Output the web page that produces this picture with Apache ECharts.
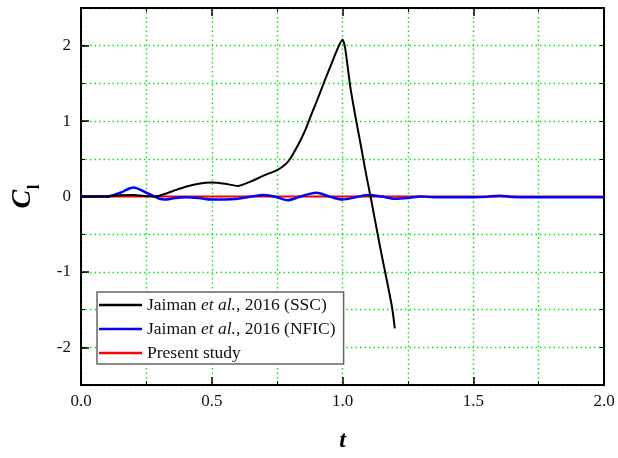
<!DOCTYPE html>
<html>
<head>
<meta charset="utf-8">
<script src="https://cdn.jsdelivr.net/npm/echarts@6/dist/echarts.min.js"></script>
<style>
  html, body { margin: 0; padding: 0; background: #fff; }
  #chart { width: 618px; height: 458px; }
</style>
</head>
<body>
<div id="chart"></div>
<script>
// Lift coefficient histories, [t, C_l]
const ssc = [
  [0, 0], [0.05, 0], [0.1, 0.0], [0.15, 0.015], [0.2, 0.02], [0.25, 0.005], [0.28, 0.0],
  [0.3, 0.01], [0.35, 0.07], [0.4, 0.13], [0.45, 0.17], [0.5, 0.185], [0.55, 0.17],
  [0.6, 0.14], [0.65, 0.2], [0.7, 0.28], [0.75, 0.35], [0.78, 0.42], [0.8, 0.5],
  [0.82, 0.62], [0.84, 0.75], [0.86, 0.9], [0.88, 1.08], [0.9, 1.25], [0.93, 1.52],
  [0.96, 1.78], [0.98, 1.95], [1.0, 2.08], [1.01, 1.97], [1.03, 1.45], [1.05, 1.05],
  [1.07, 0.68], [1.09, 0.3], [1.11, -0.05], [1.13, -0.42], [1.15, -0.78], [1.17, -1.12],
  [1.19, -1.48], [1.2, -1.75]
];
const nfic = [
  [0, 0], [0.1, 0], [0.15, 0.05], [0.2, 0.12], [0.25, 0.05], [0.3, -0.03], [0.32, -0.04],
  [0.36, -0.02], [0.4, -0.01], [0.45, -0.02], [0.5, -0.04], [0.55, -0.04], [0.6, -0.03],
  [0.65, 0.0], [0.7, 0.02], [0.75, -0.01], [0.79, -0.05], [0.84, 0.0], [0.9, 0.05],
  [0.95, 0.0], [1.0, -0.04], [1.05, -0.01], [1.1, 0.02], [1.15, 0.0], [1.2, -0.03],
  [1.25, -0.02], [1.3, 0.0], [1.35, -0.01], [1.4, -0.01], [1.5, -0.01], [1.55, -0.005],
  [1.6, 0.01], [1.65, -0.005], [1.8, -0.01], [2.0, -0.01]
];
const present = [[0, 0], [0.5, 0], [1.0, 0], [1.5, 0], [2.0, 0]];

const seriesNames = ['Jaiman et al., 2016 (SSC)', 'Jaiman et al., 2016 (NFIC)', 'Present study'];
const xRange = { min: 0, max: 2, step: 0.5 };
const yRange = { min: -2.5, max: 2.5, step: 0.5 };
const yLabelValues = [-2, -1, 0, 1, 2];

const serif = '"Liberation Serif", "Times New Roman", serif';
const gridGreen = '#00ee00';
const dotted = () => ({ color: gridGreen, type: [1.5, 3], width: 1.4 });
const frame = () => ({ color: '#000', width: 2 });

const chart = echarts.init(document.getElementById('chart'), null, { renderer: 'canvas' });
chart.setOption({
  backgroundColor: '#fff',
  animation: false,
  grid: { left: 81, right: 14, top: 8, bottom: 67 },
  legend: {
    orient: 'vertical',
    left: 97,
    top: 292,
    padding: [4, 8, 2, 2],
    itemGap: 6,
    itemWidth: 43,
    itemHeight: 2.5,
    icon: 'rect',
    backgroundColor: '#fff',
    borderColor: '#666',
    borderWidth: 1.5,
    data: seriesNames,
    formatter: function (name) {
      return name.replace('et al.', '{it|et al.}');
    },
    textStyle: {
      fontFamily: serif, fontSize: 17.5, color: '#111',
      rich: { it: { fontFamily: serif, fontSize: 17.5, fontStyle: 'italic', color: '#111' } }
    }
  },
  xAxis: [
    {
      type: 'value', min: xRange.min, max: xRange.max, interval: xRange.step,
      position: 'bottom',
      name: 't', nameLocation: 'middle', nameGap: 44,
      nameTextStyle: { fontFamily: serif, fontSize: 24, fontWeight: 'bold', fontStyle: 'italic', color: '#000' },
      axisLine: { show: true, onZero: false, lineStyle: frame() },
      axisTick: { show: true, inside: true, length: 8, lineStyle: { color: '#000', width: 1.5 } },
      minorTick: { show: true, splitNumber: 2, length: 4, lineStyle: { color: '#000', width: 1 } },
      splitLine: { show: true, lineStyle: dotted() },
      minorSplitLine: { show: true, lineStyle: dotted() },
      axisLabel: { margin: 8, fontFamily: serif, fontSize: 17, color: '#111', formatter: v => v.toFixed(1) }
    },
    {
      type: 'value', min: xRange.min, max: xRange.max, interval: xRange.step,
      position: 'top',
      axisLine: { show: true, onZero: false, lineStyle: frame() },
      axisTick: { show: true, inside: true, length: 8, lineStyle: { color: '#000', width: 1.5 } },
      minorTick: { show: true, splitNumber: 2, length: 4, lineStyle: { color: '#000', width: 1 } },
      axisLabel: { show: false },
      splitLine: { show: false }
    }
  ],
  yAxis: [
    {
      // frame line, half-step grid and short ticks, integer labels
      type: 'value', min: yRange.min, max: yRange.max, interval: yRange.step,
      position: 'left',
      name: '{c|C}{s|l}', nameLocation: 'middle', nameGap: 44, nameRotate: 90,
      nameTextStyle: {
        rich: {
          c: { fontFamily: serif, fontSize: 28, fontWeight: 'bold', fontStyle: 'italic', color: '#000', verticalAlign: 'bottom' },
          s: { fontFamily: serif, fontSize: 16, fontWeight: 'bold', color: '#000', verticalAlign: 'bottom', padding: [0, 0, -6, 1] }
        }
      },
      axisLine: { show: true, onZero: false, lineStyle: frame() },
      axisTick: { show: true, inside: true, length: 4, lineStyle: { color: '#000', width: 1 } },
      splitLine: { show: true, lineStyle: dotted() },
      axisLabel: {
        margin: 10, fontFamily: serif, fontSize: 17, color: '#111',
        customValues: yLabelValues,
        formatter: v => String(v)
      }
    },
    {
      type: 'value', min: yRange.min, max: yRange.max, interval: yRange.step,
      position: 'right',
      axisLine: { show: true, onZero: false, lineStyle: frame() },
      axisTick: { show: true, inside: true, length: 4, lineStyle: { color: '#000', width: 1 } },
      axisLabel: { show: false },
      splitLine: { show: false }
    },
    {
      // longer inner ticks at the labelled values
      type: 'value', min: yRange.min, max: yRange.max,
      position: 'left',
      axisLine: { show: false },
      axisTick: { show: true, inside: true, length: 8, customValues: yLabelValues, lineStyle: { color: '#000', width: 1.5 } },
      axisLabel: { show: false },
      splitLine: { show: false }
    }
  ],
  series: [
    {
      name: seriesNames[0], type: 'line', data: ssc, symbol: 'none', smooth: 0.25, z: 4,
      lineStyle: { color: '#000', width: 2 }, itemStyle: { color: '#000' }
    },
    {
      name: seriesNames[1], type: 'line', data: nfic, symbol: 'none', smooth: 0.3, z: 3,
      lineStyle: { color: '#0000ff', width: 2.5 }, itemStyle: { color: '#0000ff' }
    },
    {
      name: seriesNames[2], type: 'line', data: present, symbol: 'none', z: 2,
      lineStyle: { color: '#ff0000', width: 2 }, itemStyle: { color: '#ff0000' }
    }
  ]
});
</script>
</body>
</html>
